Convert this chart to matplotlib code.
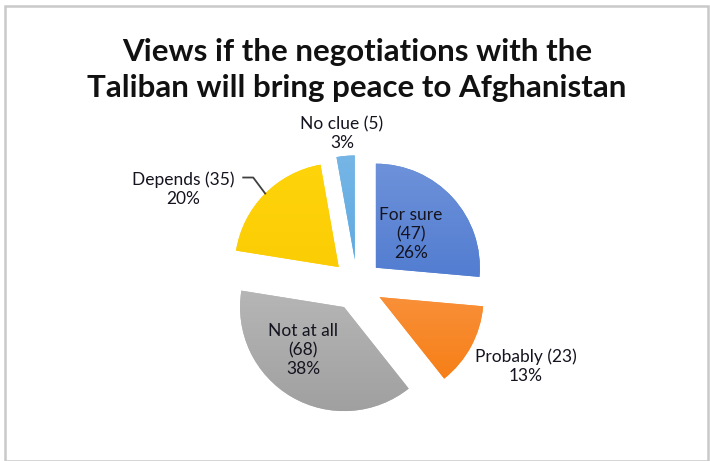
import numpy as np
import matplotlib.pyplot as plt
import matplotlib.patches as mpatches
from matplotlib.colors import LinearSegmentedColormap

plt.rcParams['font.family'] = ['Lato', 'DejaVu Sans']

# data
categories = ["For sure", "Probably", "Not at all", "Depends", "No clue"]
counts = [47, 23, 68, 35, 5]
percents = [26, 13, 38, 20, 3]
colors = ["#4f7fd5", "#f98c2e", "#b3b3b3", "#fdcc0a", "#62ade2"]
# top / bottom shade of each slice
grad_top = ["#6e92da", "#fba463", "#c6c6c6", "#ffd40a", "#76b6e6"]
grad_bot = ["#3b6bc8", "#f67b0e", "#a0a0a0", "#f7c500", "#4a9edc"]

# label text layout (pixel coords, y up)
label_text = [
    "For sure\n(47)\n26%",
    "Probably (23)\n13%",
    "Not at all\n(68)\n38%",
    "Depends (35)\n20%",
    "No clue (5)\n3%",
]
label_pos = [(411, 227), (526, 95), (303, 111), (183, 272), (342, 327)]

W, H = 710, 461
fig = plt.figure(figsize=(W / 100, H / 100), dpi=100)
ax = fig.add_axes([0, 0, 1, 1])

radius = 104
wedges, _ = ax.pie(counts, colors=colors, startangle=90, counterclock=False,
                   radius=radius, center=(357, 176), explode=[25.6] * 5,
                   frame=True, wedgeprops=dict(linewidth=0))
ax.set_xlim(0, W)
ax.set_ylim(0, H)
ax.set_aspect("auto")
ax.axis("off")

# vertical gradient fill clipped to every slice
for w, c1, c2 in zip(wedges, grad_top, grad_bot):
    cmap = LinearSegmentedColormap.from_list("g", [c2, c1])
    cx, cy = w.center
    grad = np.linspace(0, 1, 256).reshape(-1, 1)
    im = ax.imshow(grad, cmap=cmap, origin="lower", aspect="auto",
                   extent=[cx - w.r, cx + w.r, cy - w.r, cy + w.r], zorder=2)
    im.set_clip_path(w)
ax.set_xlim(0, W)
ax.set_ylim(0, H)

# chart frame
frame = mpatches.Rectangle((4.5, 0.5), 703, 454.5, fill=False, edgecolor="#c9c9c9", linewidth=1.8)
ax.add_patch(frame)

for txt, (x, y) in zip(label_text, label_pos):
    ax.text(x, y, txt, ha="center", va="center", fontsize=12.5, color="#141420",
            linespacing=1.2, zorder=5)

# leader line for "Depends"
yw = wedges[3]
ang = np.deg2rad(135)
px = yw.center[0] + yw.r * np.cos(ang)
py = yw.center[1] + yw.r * np.sin(ang)
ax.plot([px, px - 12, px - 22], [py, py + 16, py + 16], color="#404040",
        linewidth=1.3, zorder=5)

ax.text(357, 391, "Views if the negotiations with the\nTaliban will bring peace to Afghanistan",
        ha="center", va="center", fontsize=22.5, fontweight="bold", color="#111111",
        linespacing=1.34)

fig.savefig("out.png", dpi=100)
